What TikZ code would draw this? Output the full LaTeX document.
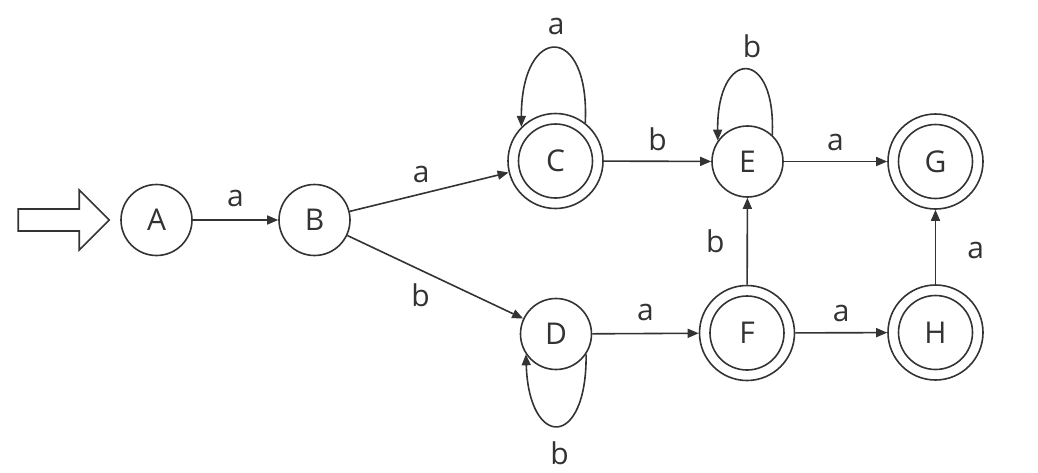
\documentclass[tikz,border=0pt]{standalone}
\usepackage{fontspec}
\setmainfont{Open Sans}
\usetikzlibrary{arrows.meta,calc}
\definecolor{ink}{HTML}{333333}
\begin{document}
\begin{tikzpicture}[x=1pt,y=-1pt,
  every node/.style={font=\fontsize{30}{34}\selectfont, text=ink},
  state/.style={circle, draw=ink, line width=1.6pt, inner sep=0pt, minimum size=71pt},
  accept/.style={circle, draw=ink, line width=1.6pt, inner sep=0pt, minimum size=95pt,
    path picture={\draw[ink, line width=1.6pt] (path picture bounding box.center) circle[radius=37pt];}},
  edge/.style={draw=ink, line width=1.6pt, -{Triangle[length=11pt,width=9pt]}},
  lbl/.style={inner sep=10pt}
]
\useasboundingbox (0,0) rectangle (1038,472);
\node[state]  (A) at (156.5,220) {A};
\node[state]  (B) at (314.5,220) {B};
\node[accept] (C) at (555.5,161) {C};
\node[state]  (E) at (747.5,161.5) {E};
\node[accept] (G) at (935.5,161.5) {G};
\node[state]  (D) at (556,334) {D};
\node[accept] (F) at (747,333) {F};
\node[accept] (H) at (935.5,332.5) {H};

% start arrow
\draw[ink, line width=1.6pt]
  ($(A.west)+(-11,0)$) -- ++(-30,-30) -- ++(0,19) -- ++(-61,0) -- ++(0,22) -- ++(61,0) -- ++(0,19) -- cycle;

\draw[edge] (A) -- node[lbl, above, yshift=2pt] {a} (B);
\draw[edge] (B) -- node[lbl, above, pos=0.45] {a} (C);
\draw[edge] (B) -- node[lbl, below, pos=0.45, xshift=-6pt] {b} (D);
\draw[edge] (C) -- node[lbl, above] {b} (E);
\draw[edge] (E) -- node[lbl, above] {a} (G);
\draw[edge] (D) -- node[lbl, above, yshift=2pt] {a} (F);
\draw[edge] (F) -- node[lbl, above] {a} (H);
\draw[edge] (F) -- node[lbl, left, xshift=-12pt] {b} (E);
\draw[edge] (H) -- node[lbl, right, xshift=21pt, yshift=-3pt] {a} (G);

\draw[edge] (C.52) .. controls +(5,-100) and +(0,-104) .. node[lbl, above, pos=0.5, yshift=2.5pt, xshift=1pt] {a} (C.135);
\draw[edge] (E.47) .. controls +(4,-88) and +(-1,-93) .. node[lbl, above, pos=0.5, yshift=1.5pt, xshift=6pt] {b} (E.145);
\draw[edge] (D.-34) .. controls +(1,95) and +(3,95) .. node[lbl, below, pos=0.5, yshift=-5pt, xshift=2pt] {b} (D.-146);
\end{tikzpicture}
\end{document}
